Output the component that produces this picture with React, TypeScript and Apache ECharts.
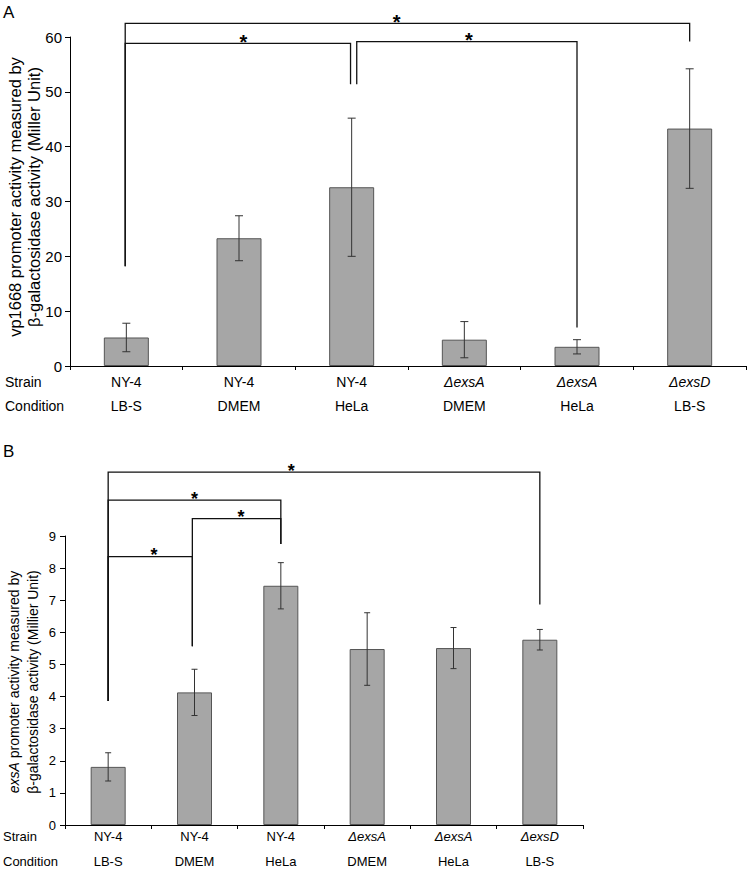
import React, { useEffect, useRef } from "react";
import * as echarts from "echarts";

const strains = ["NY-4", "NY-4", "NY-4", "ΔexsA", "ΔexsA", "ΔexsD"];
const conditions = ["LB-S", "DMEM", "HeLa", "DMEM", "HeLa", "LB-S"];
const categories = strains.map((s, i) => s + " " + conditions[i]);

const meanA = [5.2, 23.3, 32.6, 4.8, 3.5, 43.3];
const errA = [2.6, 4.1, 12.6, 3.3, 1.3, 10.9];
const meanB = [1.81, 4.13, 7.45, 5.48, 5.51, 5.77];
const errB = [0.44, 0.72, 0.72, 1.13, 0.64, 0.32];

const ticksA = { min: 0, max: 60, interval: 10 };
const ticksB = { min: 0, max: 9, interval: 1 };

// [xLeft, xRight, yTop, yLeftEnd, yRightEnd, starX]  (x in category positions)
const bracketsA = [
  [-0.01, 5, 62.5, 18.2, 59.2, 2.4],
  [-0.01, 1.99, 58.85, 18.2, 51.4, 1.04],
  [2.045, 4, 59.15, 51.4, 7.0, 3.04],
];
const bracketsB = [
  [0, 5, 10.99, 3.86, 6.87, 2.12],
  [0, 2, 10.12, 3.86, 8.75, 1.0],
  [0.975, 2, 9.54, 5.57, 8.75, 1.54],
  [0, 0.975, 8.36, 3.86, 5.57, 0.53],
];

const FONT = '"Liberation Sans", Arial, sans-serif';

function labelFormatter(_v: string, i: number) {
  const s = strains[i];
  const sp = s.startsWith("Δ") ? `{i|${s}}` : `{n|${s}}`;
  return `${sp}\n{n|${conditions[i]}}`;
}

function errorSeries(means: number[], errs: number[], axis: number, cap: number) {
  return {
    type: "custom",
    xAxisIndex: axis,
    yAxisIndex: axis,
    clip: false,
    z: 5,
    encode: { x: 0, y: [1, 2] },
    data: means.map((m, i) => [i, m - errs[i], m + errs[i]]),
    renderItem: (_p: any, api: any) => {
      const c = api.value(0);
      const lo = api.coord([c, api.value(1)]);
      const hi = api.coord([c, api.value(2)]);
      const st = { stroke: "#333", lineWidth: 1, fill: null };
      return {
        type: "group",
        children: [
          { type: "line", shape: { x1: lo[0], y1: lo[1], x2: hi[0], y2: hi[1] }, style: st },
          { type: "line", shape: { x1: lo[0] - cap, y1: lo[1], x2: lo[0] + cap, y2: lo[1] }, style: st },
          { type: "line", shape: { x1: hi[0] - cap, y1: hi[1], x2: hi[0] + cap, y2: hi[1] }, style: st },
        ],
      };
    },
  };
}

function bracketSeries(brackets: number[][], axis: number, starSize: number) {
  return {
    type: "custom",
    xAxisIndex: axis,
    yAxisIndex: axis,
    clip: false,
    z: 6,
    encode: { x: 0, y: 1 },
    data: brackets.map((b) => [Math.round(b[0]), b[2]]),
    renderItem: (p: any, api: any) => {
      const b = brackets[p.dataIndex];
      const band = api.size([1, 0])[0];
      const px = (v: number) => api.coord([Math.round(v), 0])[0] + (v - Math.round(v)) * band;
      const py = (v: number) => api.coord([0, v])[1];
      return {
        type: "group",
        children: [
          {
            type: "polyline",
            shape: {
              points: [
                [px(b[0]), py(b[3])],
                [px(b[0]), py(b[2])],
                [px(b[1]), py(b[2])],
                [px(b[1]), py(b[4])],
              ],
            },
            style: { stroke: "#111", lineWidth: 1.3, fill: null },
          },
          {
            type: "text",
            style: {
              text: "*",
              x: px(b[5]),
              y: py(b[2]) - 1.5,
              align: "center",
              verticalAlign: "middle",
              font: `bold ${starSize}px ${FONT}`,
              fill: "#000",
            },
          },
        ],
      };
    },
  };
}

export default function App() {
  const ref = useRef<HTMLDivElement>(null);
  useEffect(() => {
    document.body.style.margin = "0";
    if (!ref.current) return;
    const chart = echarts.init(ref.current, undefined, { renderer: "svg" });
    const rich = (fs: number, lh: number) => ({
      n: { fontSize: fs, lineHeight: lh, fontFamily: FONT, color: "#000" },
      i: { fontSize: fs, lineHeight: lh, fontFamily: FONT, color: "#000", fontStyle: "italic" },
    });
    const xAxisBase = (gi: number, fs: number, lh: number, margin: number) => ({
      type: "category",
      gridIndex: gi,
      data: categories,
      boundaryGap: true,
      axisLine: { show: true, lineStyle: { color: "#000", width: 1 } },
      axisTick: { show: true, length: 4, interval: 0, lineStyle: { color: "#000" } },
      axisLabel: { interval: 0, margin, formatter: labelFormatter, rich: rich(fs, lh) },
      splitLine: { show: false },
    });
    const yAxisBase = (gi: number, t: any, fs: number, margin: number) => ({
      type: "value",
      gridIndex: gi,
      min: t.min,
      max: t.max,
      interval: t.interval,
      axisLine: { show: true, lineStyle: { color: "#000", width: 1 } },
      axisTick: { show: true, length: 5, lineStyle: { color: "#000" } },
      axisLabel: { fontSize: fs, fontFamily: FONT, color: "#000", margin },
      splitLine: { show: false },
    });
    const barStyle = { color: "#a6a6a6", borderColor: "#555", borderWidth: 1 };
    chart.setOption({
      animation: false,
      backgroundColor: "#fff",
      grid: [
        { left: 70, top: 37, width: 676, height: 329 },
        { left: 65, top: 536, width: 518, height: 289 },
      ],
      xAxis: [xAxisBase(0, 14, 24, 4), xAxisBase(1, 13, 25, -1)],
      yAxis: [yAxisBase(0, ticksA, 15, 8), yAxisBase(1, ticksB, 13, 9)],
      series: [
        { type: "bar", xAxisIndex: 0, yAxisIndex: 0, data: meanA, barWidth: 45, itemStyle: barStyle },
        { type: "bar", xAxisIndex: 1, yAxisIndex: 1, data: meanB, barWidth: 35, itemStyle: barStyle },
        errorSeries(meanA, errA, 0, 4),
        errorSeries(meanB, errB, 1, 3),
        bracketSeries(bracketsA, 0, 20),
        bracketSeries(bracketsB, 1, 18),
      ],
      graphic: [
        { type: "text", x: 3, y: 4, style: { text: "A", font: `17px ${FONT}`, fill: "#000" } },
        { type: "text", x: 3, y: 443, style: { text: "B", font: `17px ${FONT}`, fill: "#000" } },
        { type: "text", x: 5, y: 382, style: { text: "Strain", font: `14px ${FONT}`, fill: "#000", verticalAlign: "middle" } },
        { type: "text", x: 5, y: 406, style: { text: "Condition", font: `14px ${FONT}`, fill: "#000", verticalAlign: "middle" } },
        { type: "text", x: 3, y: 836, style: { text: "Strain", font: `13px ${FONT}`, fill: "#000", verticalAlign: "middle" } },
        { type: "text", x: 3, y: 861, style: { text: "Condition", font: `13px ${FONT}`, fill: "#000", verticalAlign: "middle" } },
        {
          type: "text",
          x: 24,
          y: 197,
          rotation: Math.PI / 2,
          style: {
            text: "{n|vp1668 promoter activity measured by}\n{n|β-galactosidase activity (Miller Unit)}",
            align: "center",
            verticalAlign: "middle",
            rich: {
              n: { fontSize: 16.5, fontFamily: FONT, lineHeight: 19, fill: "#000" },
            },
          },
        },
        {
          type: "text",
          x: 23,
          y: 682,
          rotation: Math.PI / 2,
          style: {
            text: "{i|exsA}{n| promoter activity measured by}\n{n|β-galactosidase activity (Millier Unit)}",
            align: "center",
            verticalAlign: "middle",
            rich: {
              n: { fontSize: 14, fontFamily: FONT, lineHeight: 19, fill: "#000" },
              i: { fontSize: 14, fontFamily: FONT, lineHeight: 19, fill: "#000", fontStyle: "italic" },
            },
          },
        },
      ],
    });
    return () => chart.dispose();
  }, []);
  return <div ref={ref} style={{ width: 750, height: 869 }} />;
}
